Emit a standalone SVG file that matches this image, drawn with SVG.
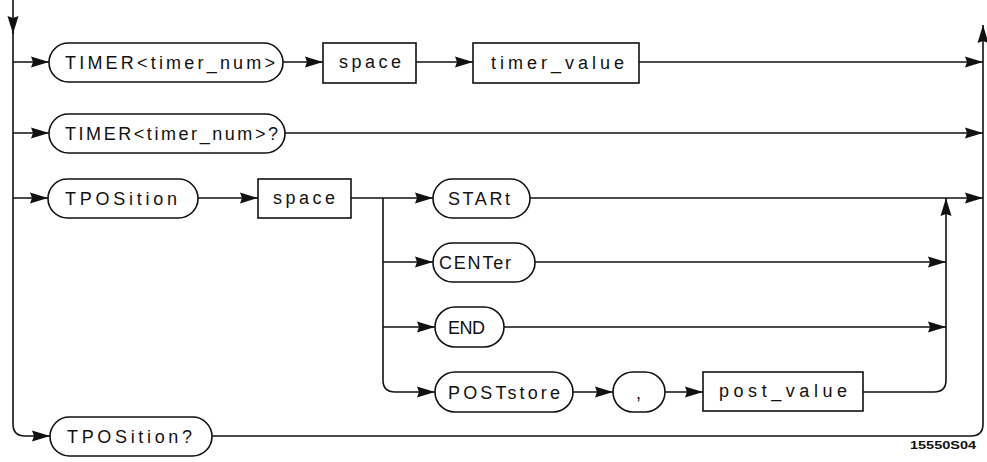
<svg xmlns="http://www.w3.org/2000/svg" width="987" height="462" viewBox="0 0 987 462">
<style>
.bg{fill:#ffffff}
.pill,.box{fill:#ffffff;stroke:#111;stroke-width:1.6}
.ln{fill:none;stroke:#111;stroke-width:1.6}
.arr{marker-end:url(#ah)}
.t{font-family:"Liberation Sans","DejaVu Sans",sans-serif;font-size:18px;fill:#111}
.lbl{font-family:"Liberation Sans","DejaVu Sans",sans-serif;font-size:11px;font-weight:bold;fill:#111}
</style>
<defs>
<marker id="ah" markerUnits="userSpaceOnUse" markerWidth="19" markerHeight="13" refX="18" refY="6" orient="auto">
<path d="M0,0.5 L18,6 L0,11.5 L2,6 z" fill="#111"/>
</marker>
</defs>
<rect class="bg" x="0" y="0" width="987" height="462"/>

<g id="connectors">
<path class="ln arr" d="M13,0 V34"/>
<path class="ln arr" d="M13,30 V424 Q13,436 25,436 H50"/>
<path class="ln arr" d="M13,62 H49"/>
<path class="ln arr" d="M283,62 H323"/>
<path class="ln arr" d="M416,62 H473"/>
<path class="ln arr" d="M639,62 H983"/>
<path class="ln arr" d="M13,133 H49"/>
<path class="ln arr" d="M285,133 H983"/>
<path class="ln arr" d="M13,198 H48"/>
<path class="ln arr" d="M198,198 H258"/>
<path class="ln arr" d="M351,198 H433"/>
<path class="ln arr" d="M530,198 H983"/>
<path class="ln arr" d="M383,198 V380 Q383,392 395,392 H435"/>
<path class="ln arr" d="M383,262 H433"/>
<path class="ln arr" d="M383,327 H435"/>
<path class="ln arr" d="M535,262 H946"/>
<path class="ln arr" d="M504,327 H946"/>
<path class="ln arr" d="M573,392 H613"/>
<path class="ln arr" d="M665,392 H703"/>
<path class="ln arr" d="M863,392 H934 Q946,392 946,380 V198"/>
<path class="ln arr" d="M212,436 H971 Q983,436 983,424 V25"/>
</g>

<g id="n_timer">
<rect class="pill" x="49" y="43" width="234" height="39" rx="19.5"/>
<text class="t" x="65" y="68.5" textLength="210" lengthAdjust="spacing">TIMER&lt;timer_num&gt;</text>
</g>
<g id="n_space1">
<rect class="box" x="323" y="43" width="93" height="40"/>
<text class="t" x="339" y="68" textLength="62" lengthAdjust="spacing">space</text>
</g>
<g id="n_timer_value">
<rect class="box" x="473" y="43" width="166" height="40"/>
<text class="t" x="491" y="68.5" textLength="133" lengthAdjust="spacing">timer_value</text>
</g>
<g id="n_timer_q">
<rect class="pill" x="49" y="114" width="236" height="39" rx="19.5"/>
<text class="t" x="65" y="140" textLength="213" lengthAdjust="spacing">TIMER&lt;timer_num&gt;?</text>
</g>
<g id="n_tposition">
<rect class="pill" x="48" y="179" width="150" height="39" rx="19.5"/>
<text class="t" x="65" y="205" textLength="112" lengthAdjust="spacing">TPOSition</text>
</g>
<g id="n_space2">
<rect class="box" x="258" y="179" width="93" height="39"/>
<text class="t" x="273" y="204" textLength="62" lengthAdjust="spacing">space</text>
</g>
<g id="n_start">
<rect class="pill" x="433" y="179" width="97" height="39" rx="19.5"/>
<text class="t" x="448" y="205" textLength="62" lengthAdjust="spacing">STARt</text>
</g>
<g id="n_center">
<rect class="pill" x="433" y="243" width="102" height="39" rx="19.5"/>
<text class="t" x="439" y="269" textLength="72" lengthAdjust="spacing">CENTer</text>
</g>
<g id="n_end">
<rect class="pill" x="435" y="307" width="69" height="40" rx="20"/>
<text class="t" x="448" y="334" textLength="37" lengthAdjust="spacing">END</text>
</g>
<g id="n_poststore">
<rect class="pill" x="435" y="372" width="138" height="40" rx="20"/>
<text class="t" x="448" y="399" textLength="112" lengthAdjust="spacing">POSTstore</text>
</g>
<g id="n_comma">
<rect class="pill" x="613" y="372" width="52" height="40" rx="20"/>
<text class="t" x="636" y="399">,</text>
</g>
<g id="n_post_value">
<rect class="box" x="703" y="372" width="160" height="39"/>
<text class="t" x="719" y="397" textLength="128" lengthAdjust="spacing">post_value</text>
</g>
<g id="n_tposition_q">
<rect class="pill" x="50" y="417" width="162" height="39" rx="19.5"/>
<text class="t" x="67" y="443" textLength="125" lengthAdjust="spacing">TPOSition?</text>
</g>
<text class="lbl" x="910" y="449" textLength="66" lengthAdjust="spacingAndGlyphs">15550S04</text>
</svg>
